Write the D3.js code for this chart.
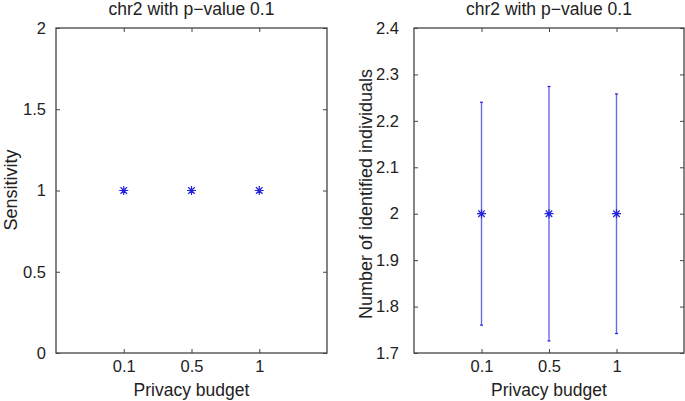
<!DOCTYPE html>
<html><head><meta charset="utf-8">
<script src="https://cdn.jsdelivr.net/npm/d3@7"></script>
<style>body{margin:0;background:#fff}svg{display:block}text{font-family:"Liberation Sans",Arial,sans-serif;fill:#222}</style>
</head><body><svg id="c" width="685" height="401"></svg>
<script>
const categories = ["0.1","0.5","1"];
const sensitivity = [1,1,1];
const identifiedMean = [2,2,2];
const identifiedErr = [0.24,0.274,0.258];
const leftTicks = [0,0.5,1,1.5,2];
const rightTicks = [1.7,1.8,1.9,2.0,2.1,2.2,2.3,2.4];
const titleText = "chr2 with p\u2212value 0.1";

const svg = d3.select("#c");
const plotTop = 28, plotBottom = 353;
const markColor = "#2323dc";
const barColor = "#6a6ae4";

function panel(x0, x1, yDomain, yTicks, yFmt, ylabel, ylabelX, ylabelY, yPad, values, errs){
  const g = svg.append("g");
  const x = d3.scaleLinear().domain([0,4]).range([x0,x1]);
  const y = d3.scaleLinear().domain(yDomain).range([plotBottom,plotTop]);
  const pos = categories.map((c,i)=>i+1);
  g.append("rect").attr("x",x0).attr("y",plotTop).attr("width",x1-x0).attr("height",plotBottom-plotTop)
    .attr("fill","none").attr("stroke","#444").attr("stroke-width",1.3);
  const axB = d3.axisBottom(x).tickValues(pos).tickFormat((d,i)=>categories[i]).tickSizeInner(-4).tickSizeOuter(0).tickPadding(7);
  const gb = g.append("g").attr("transform",`translate(0,${plotBottom})`).call(axB);
  const axT = d3.axisTop(x).tickValues(pos).tickFormat("").tickSizeInner(-4).tickSizeOuter(0);
  const gt = g.append("g").attr("transform",`translate(0,${plotTop})`).call(axT);
  const axL = d3.axisLeft(y).tickValues(yTicks).tickFormat(yFmt).tickSizeInner(-4).tickSizeOuter(0).tickPadding(yPad);
  const gl = g.append("g").attr("transform",`translate(${x0},0)`).call(axL);
  const axR = d3.axisRight(y).tickValues(yTicks).tickFormat("").tickSizeInner(-4).tickSizeOuter(0);
  const gr = g.append("g").attr("transform",`translate(${x1},0)`).call(axR);
  [gb,gt,gl,gr].forEach(a=>{a.select(".domain").remove();a.selectAll("line").attr("stroke","#444");
    a.selectAll("text").attr("font-size",16.5).attr("fill","#222").style("font-family","Liberation Sans, Arial, sans-serif");});
  if(errs){
    values.forEach((v,i)=>{
      const cx = x(pos[i]);
      g.append("line").attr("x1",cx).attr("x2",cx).attr("y1",y(v-errs[i])).attr("y2",y(v+errs[i])).attr("stroke",barColor).attr("stroke-width",1.4);
      [v-errs[i],v+errs[i]].forEach(e=>g.append("line").attr("x1",cx-1.5).attr("x2",cx+1.5).attr("y1",y(e)).attr("y2",y(e)).attr("stroke",markColor).attr("stroke-width",1.2));
    });
  }
  const r = 4.5, d = r*0.72;
  values.forEach((v,i)=>{
    const cx = x(pos[i]), cy = y(v);
    g.append("path").attr("d",`M${cx-r},${cy}H${cx+r}M${cx},${cy-r}V${cy+r}M${cx-d},${cy-d}L${cx+d},${cy+d}M${cx-d},${cy+d}L${cx+d},${cy-d}`)
      .attr("stroke",markColor).attr("stroke-width",1.2).attr("fill","none");
  });
  g.append("text").attr("x",(x0+x1)/2).attr("y",15).attr("text-anchor","middle").attr("font-size",17.5).text(titleText);
  g.append("text").attr("x",(x0+x1)/2).attr("y",395.5).attr("text-anchor","middle").attr("font-size",17.5).text("Privacy budget");
  g.append("text").attr("transform",`translate(${ylabelX},${ylabelY}) rotate(-90)`).attr("text-anchor","middle").attr("font-size",18).text(ylabel);
}

panel(56, 327, [0,2], leftTicks, d=>d3.format("")(d), "Sensitivity", 16.5, 190, 10, sensitivity, null);
panel(414, 684, [1.7,2.4], rightTicks, d=>d3.format(".1f")(d).replace(/\.0$/,""), "Number of identified individuals", 372, 194, 15, identifiedMean, identifiedErr);
</script></body></html>
